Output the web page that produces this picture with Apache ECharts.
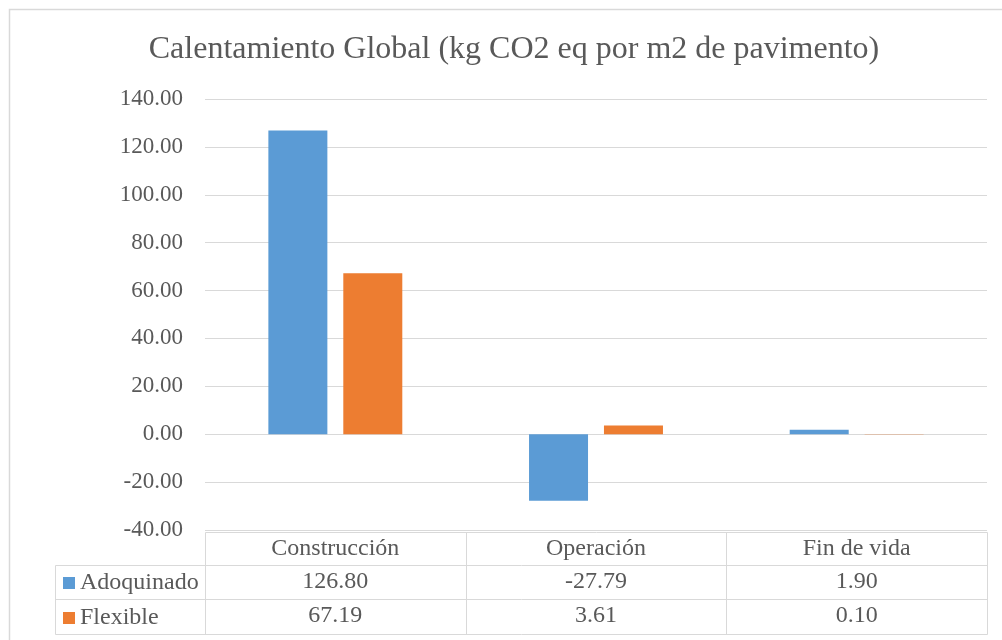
<!DOCTYPE html>
<html>
<head>
<meta charset="utf-8">
<script src="https://cdn.jsdelivr.net/npm/echarts@6/dist/echarts.min.js"></script>
<style>
  html, body { margin: 0; padding: 0; background: #fff; }
  #chart { width: 1002px; height: 640px; }
</style>
</head>
<body>
<div id="chart"></div>
<script>
// Global warming per square metre of pavement, by life-cycle stage
const categories = ['Construcción', 'Operación', 'Fin de vida'];
const seriesNames = ['Adoquinado', 'Flexible'];
const adoquinado = [126.80, -27.79, 1.90];
const flexible = [67.19, 3.61, 0.10];
const yTicks = { min: -40, max: 140, step: 20 };

const FONT = '"Liberation Serif", "Times New Roman", serif';
const TEXT = '#595959';
const LINE = '#d9d9d9';
const COLORS = ['#5b9bd5', '#ed7d31'];

const GRID = { left: 205, right: 15, top: 99, bottom: 110 };
const ROW_H = [33, 34, 35]; // header, first and second data rows
const LABEL_COL_LEFT = 55;
const TABLE_FONT = 24;

const chart = echarts.init(document.getElementById('chart'));

function valueAxis(offset, values) {
  return {
    type: 'category',
    data: categories,
    gridIndex: 0,
    position: 'bottom',
    offset: offset,
    axisLine: { show: false, onZero: false },
    axisTick: { show: false },
    splitLine: { show: false },
    axisLabel: {
      margin: 7,
      interval: 0,
      color: TEXT,
      fontFamily: FONT,
      fontSize: TABLE_FONT,
      formatter: values ? (v, i) => values[i].toFixed(2) : undefined
    }
  };
}

const option = {
  animation: false,
  backgroundColor: '#fff',
  textStyle: { fontFamily: FONT },
  title: {
    text: 'Calentamiento Global (kg CO2 eq por m2 de pavimento)',
    left: 509,
    top: 29,
    textAlign: 'center',
    textStyle: { color: TEXT, fontFamily: FONT, fontSize: 32, fontWeight: 'normal' }
  },
  legend: {
    orient: 'vertical',
    left: 63,
    top: 570,
    padding: 0,
    itemGap: 9,
    itemWidth: 12,
    itemHeight: 12,
    icon: 'rect',
    data: seriesNames,
    textStyle: { color: TEXT, fontFamily: FONT, fontSize: TABLE_FONT, lineHeight: 26 }
  },
  grid: { left: GRID.left, right: GRID.right, top: GRID.top, bottom: GRID.bottom, containLabel: false },
  xAxis: [
    valueAxis(0, null),
    valueAxis(ROW_H[0], adoquinado),
    valueAxis(ROW_H[0] + ROW_H[1], flexible)
  ],
  yAxis: {
    type: 'value',
    min: yTicks.min,
    max: yTicks.max,
    interval: yTicks.step,
    axisLine: { show: false },
    axisTick: { show: false },
    splitLine: { lineStyle: { color: LINE, width: 1 } },
    axisLabel: {
      margin: 22,
      color: TEXT,
      fontFamily: FONT,
      fontSize: 23,
      formatter: v => v.toFixed(2)
    }
  },
  series: [
    { name: seriesNames[0], type: 'bar', data: adoquinado, barWidth: 59, barGap: '27%', itemStyle: { color: COLORS[0] } },
    { name: seriesNames[1], type: 'bar', data: flexible, barWidth: 59, barGap: '27%', itemStyle: { color: COLORS[1] } }
  ]
};

chart.setOption(option);

// Data-table ruling beneath the plot, derived from the grid's geometry
function drawTable() {
  const W = chart.getWidth(), H = chart.getHeight();
  const x0 = GRID.left, x1 = W - GRID.right;
  const yTop = H - GRID.bottom + 2;
  const y1 = yTop + ROW_H[0];
  const y2 = y1 + ROW_H[1];
  const y3 = y2 + ROW_H[2];
  const n = categories.length;
  const step = (x1 - x0) / n;
  const lines = [];
  const ln = (ax, ay, bx, by) => lines.push({
    type: 'line', silent: true,
    shape: { x1: ax, y1: ay, x2: bx, y2: by },
    style: { stroke: LINE, lineWidth: 1 }
  });
  const r = v => Math.round(v) + 0.5;
  ln(r(x0), r(yTop), r(x1), r(yTop));
  ln(r(LABEL_COL_LEFT), r(y1), r(x1), r(y1));
  ln(r(LABEL_COL_LEFT), r(y2), r(x1), r(y2));
  ln(r(LABEL_COL_LEFT), r(y3), r(x1), r(y3));
  ln(r(LABEL_COL_LEFT), r(y1), r(LABEL_COL_LEFT), r(y3));
  for (let i = 0; i <= n; i++) {
    const x = r(x0 + step * i);
    ln(x, r(yTop), x, r(y3));
  }
  // outer chart frame
  lines.push({
    type: 'rect', silent: true, z: -1,
    shape: { x: 9.5, y: 9.5, width: W + 20, height: H + 20 },
    style: { fill: null, stroke: LINE, lineWidth: 1.5 }
  });
  chart.setOption({ graphic: { elements: lines } });
}
drawTable();
</script>
</body>
</html>
